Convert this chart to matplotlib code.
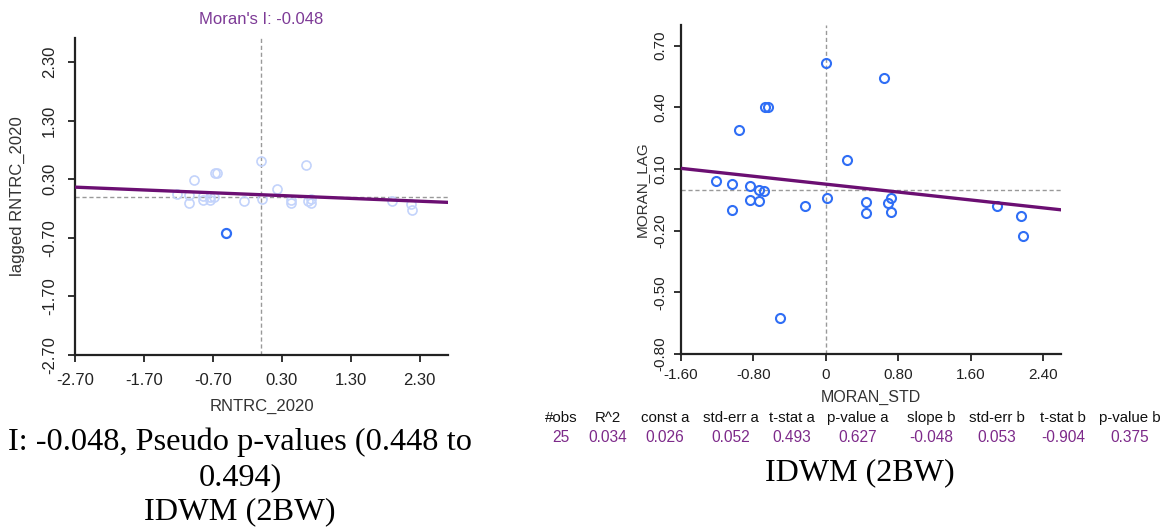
import numpy as np
import matplotlib.pyplot as plt

# datos leidos del grafico
# panel izquierdo: RNTRC_2020 vs lagged RNTRC_2020
x_izq = [-1.22, -1.05, -1.05, -0.97, -0.84, -0.84, -0.74, -0.74, -0.68, -0.67,
         -0.64, -0.51, -0.25, 0.00, 0.01, 0.23, 0.43, 0.44, 0.65, 0.68,
         0.72, 0.72, 1.90, 2.17, 2.19]
y_izq = [0.04, 0.03, -0.10, 0.29, 0.02, -0.05, 0.00, -0.05, -0.01, 0.40,
         0.40, -0.62, -0.08, 0.61, -0.04, 0.14, -0.11, -0.06, 0.54, -0.07,
         -0.04, -0.11, -0.08, -0.13, -0.23]
sel_izq = 11  # punto resaltado

# panel derecho: MORAN_STD vs MORAN_LAG
x_der = [-1.21, -1.035, -1.035, -0.96, -0.84, -0.84, -0.74, -0.74, -0.68, -0.67,
         -0.64, -0.505, -0.235, 0.00, 0.01, 0.23, 0.44, 0.45, 0.64, 0.69,
         0.72, 0.72, 1.89, 2.16, 2.18]
y_der = [0.042, 0.029, -0.102, 0.291, 0.017, -0.049, 0.000, -0.054, -0.007, 0.400,
         0.400, -0.625, -0.078, 0.613, -0.042, 0.142, -0.114, -0.060, 0.540, -0.067,
         -0.041, -0.109, -0.078, -0.131, -0.227]

moran_i = -0.048
const_izq = 0.035
const_der = 0.026

ticks_x_izq = [-2.70, -1.70, -0.70, 0.30, 1.30, 2.30]
ticks_y_izq = [-2.70, -1.70, -0.70, 0.30, 1.30, 2.30]
ticks_x_der = [-1.60, -0.80, 0, 0.80, 1.60, 2.40]
ticks_y_der = [-0.80, -0.50, -0.20, 0.10, 0.40, 0.70]

cabecera = ['#obs', 'R^2', 'const a', 'std-err a', 't-stat a', 'p-value a',
            'slope b', 'std-err b', 't-stat b', 'p-value b']
valores = ['25', '0.034', '0.026', '0.052', '0.493', '0.627',
           '-0.048', '0.053', '-0.904', '0.375']
col_x = [561, 608, 665, 731, 792, 858, 931, 997, 1063, 1130]

morado = '#6b0f72'
titulo_col = '#7d3a96'
W, H = 1171, 527


def fmt(v):
    return '0' if v == 0 else '%.2f' % v


def estilo(ax, xt, yt, xl, yl, fs, pad):
    for s in ['top', 'right']:
        ax.spines[s].set_visible(False)
    for s in ['left', 'bottom']:
        ax.spines[s].set_linewidth(1.6)
        ax.spines[s].set_color('#222222')
    ax.set_xticks(xt)
    ax.set_yticks(yt)
    ax.set_xticklabels([fmt(v) for v in xt])
    ax.set_yticklabels([fmt(v) for v in yt], rotation=90, va='center')
    ax.tick_params(length=5, width=1.3, color='#222222', labelsize=fs,
                   labelcolor='#222222', pad=pad)
    ax.set_xlim(xl)
    ax.set_ylim(yl)


fig = plt.figure(figsize=(W / 100, H / 100), dpi=100)
plt.rcParams['font.family'] = ['Liberation Sans', 'DejaVu Sans']

# ---- panel izquierdo
ax1 = fig.add_axes([75 / W, 1 - 355 / H, (448 - 75) / W, (355 - 38) / H])
estilo(ax1, ticks_x_izq, ticks_y_izq, (-2.70, 2.71), (-2.70, 2.71), 12, 8)
ax1.axvline(0, color='#999999', lw=1, ls=(0, (3, 2)), zorder=1)
ax1.axhline(0, color='#999999', lw=1, ls=(0, (3, 2)), zorder=1)
xi = np.array(x_izq)
yi = np.array(y_izq)
claro = [i for i in range(len(xi)) if i != sel_izq]
ax1.plot(xi[claro], yi[claro], 'o', mfc='none', mec='#c3d3fb', ms=6.5, mew=1.2, zorder=2)
ax1.plot(xi[sel_izq], yi[sel_izq], 'o', mfc='none', mec='#2f6ef5', ms=6.5, mew=1.6, zorder=3)
xr = np.array([-2.70, 2.71])
ax1.plot(xr, const_izq + moran_i * xr, color=morado, lw=2.4, zorder=4)
ax1.set_title("Moran's I: -0.048", color=titulo_col, fontsize=12, pad=10)
ax1.set_xlabel('RNTRC_2020', fontsize=12, color='#333333', labelpad=8)
ax1.set_ylabel('lagged RNTRC_2020', fontsize=12, color='#333333', labelpad=12)

# ---- panel derecho
ax2 = fig.add_axes([681 / W, 1 - 354 / H, (1061 - 681) / W, (354 - 25) / H])
estilo(ax2, ticks_x_der, ticks_y_der, (-1.60, 2.60), (-0.80, 0.80), 11, 5)
ax2.axvline(0, color='#999999', lw=1, ls=(0, (3, 2)), zorder=1)
ax2.axhline(0, color='#999999', lw=1, ls=(0, (3, 2)), zorder=1)
ax2.plot(x_der, y_der, 'o', mfc='none', mec='#2f6ef5', ms=6.5, mew=1.5, zorder=3)
xr2 = np.array([-1.60, 2.60])
ax2.plot(xr2, const_der + moran_i * xr2, color=morado, lw=2.4, zorder=4)
ax2.set_xlabel('MORAN_STD', fontsize=11.5, color='#333333', labelpad=6)
ax2.set_ylabel('MORAN_LAG', fontsize=11, color='#333333', labelpad=3)

# tabla de regresion
for cx, c, v in zip(col_x, cabecera, valores):
    fig.text(cx / W, 1 - 418 / H, c, ha='center', va='center', fontsize=10.8, color='#111111')
    fig.text(cx / W, 1 - 438 / H, v, ha='center', va='center', fontsize=11.2, color='#7d2a8a')

# leyendas en Times
serif = ['Liberation Serif', 'DejaVu Serif']
fig.text(240 / W, 1 - 442 / H, 'I: -0.048, Pseudo p-values (0.448 to', ha='center',
         va='center', fontsize=23.3, family=serif)
fig.text(240 / W, 1 - 478 / H, '0.494)', ha='center', va='center', fontsize=23.3, family=serif)
fig.text(240 / W, 1 - 512 / H, 'IDWM (2BW)', ha='center', va='center', fontsize=23.3, family=serif)
fig.text(860 / W, 1 - 473 / H, 'IDWM (2BW)', ha='center', va='center', fontsize=23, family=serif)

fig.savefig('out.png', dpi=100)
